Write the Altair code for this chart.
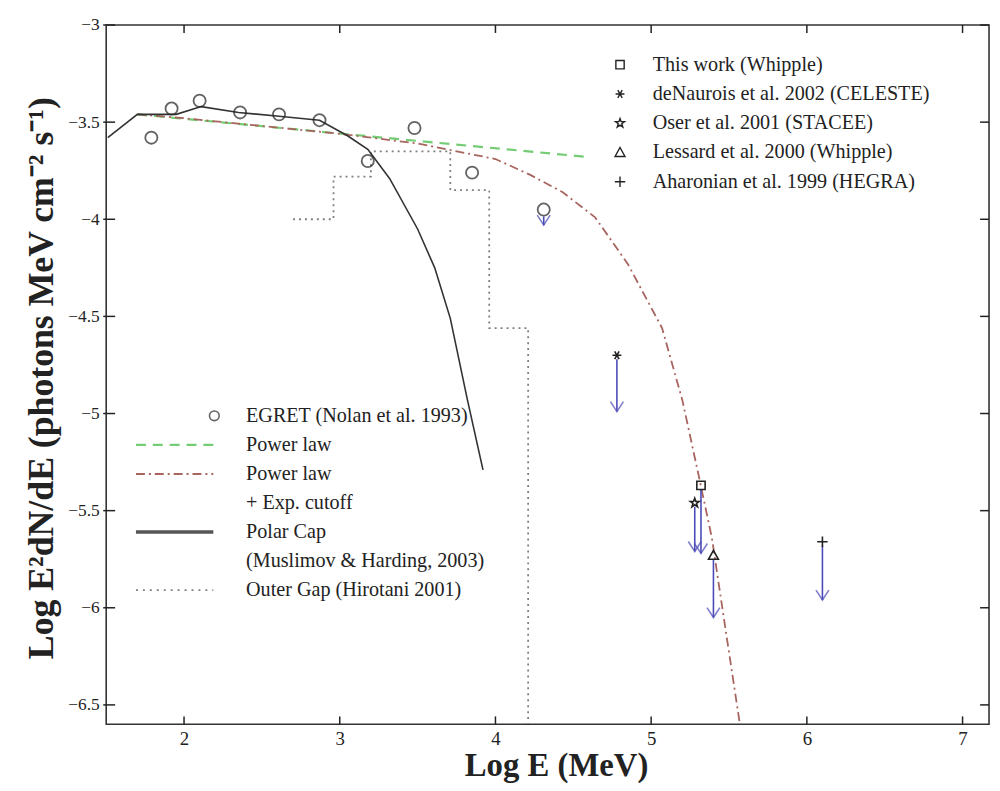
import altair as alt
import pandas as pd

# ---------------- data ----------------
x_ticks = [2, 3, 4, 5, 6, 7]
y_ticks = [-3, -3.5, -4, -4.5, -5, -5.5, -6, -6.5]
x_domain = [1.5, 7.17]
y_domain = [-6.6, -3.0]

# EGRET (Nolan et al. 1993) open circles
egret_x = [1.79, 1.92, 2.10, 2.36, 2.61, 2.87, 3.18, 3.48, 3.85, 4.31]
egret_y = [-3.58, -3.43, -3.39, -3.45, -3.46, -3.49, -3.70, -3.53, -3.76, -3.95]

# Polar Cap (Muslimov & Harding 2003) solid line
polar_x = [1.51, 1.70, 1.95, 2.11, 2.35, 2.61, 2.87, 3.05, 3.18, 3.32, 3.50, 3.61, 3.71, 3.82, 3.92]
polar_y = [-3.58, -3.46, -3.46, -3.42, -3.45, -3.47, -3.49, -3.57, -3.64, -3.79, -4.05, -4.25, -4.51, -4.93, -5.29]

# Power law (green dashed)
pl_x = [1.70, 4.60]
pl_y = [-3.46, -3.68]

# Power law + exp. cutoff (red dash-dot)
plc_x = [1.70, 2.00, 2.50, 3.00, 3.50, 4.00, 4.22, 4.43, 4.64, 4.85, 5.07, 5.20, 5.30, 5.39, 5.47, 5.57]
plc_y = [-3.46, -3.48, -3.52, -3.56, -3.61, -3.69, -3.77, -3.86, -3.99, -4.23, -4.56, -4.93, -5.30, -5.64, -6.07, -6.60]

# Outer Gap (Hirotani 2001) dotted step line
og_x = [2.70, 2.96, 3.20, 3.71, 3.96, 4.21]
og_y = [-4.00, -3.78, -3.65, -3.85, -4.56, -6.60]

# Upper limits of the TeV experiments
src_names = ["This work (Whipple)", "deNaurois et al. 2002 (CELESTE)",
             "Oser et al. 2001 (STACEE)", "Lessard et al. 2000 (Whipple)",
             "Aharonian et al. 1999 (HEGRA)"]
src_x = [5.32, 4.78, 5.28, 5.40, 6.10]
src_y = [-5.37, -4.70, -5.46, -5.73, -5.66]
src_lim = [-5.72, -4.99, -5.71, -6.05, -5.96]

# EGRET highest bin upper-limit arrow
egret_ul_x = [4.31]
egret_ul_top = [-3.985]
egret_ul_bot = [-4.03]

leg1_labels = ["EGRET (Nolan et al. 1993)", "Power law", "Power law", "+ Exp. cutoff",
               "Polar Cap", "(Muslimov & Harding, 2003)", "Outer Gap (Hirotani 2001)"]

x_title = "Log E (MeV)"
y_title = "Log E\u00b2dN/dE (photons MeV cm\u207b\u00b2 s\u207b\u00b9)"

# ---------------- styles ----------------
W, H = 890, 705
FONT = "Liberation Serif"
INK = "#222222"
BLUE = "#4a4ab8"
GREEN = "#74cc74"
RED = "#a8645e"
GRAY = "#808080"
LEG_FS = 20.3

SQUARE = "M-1,-1L1,-1L1,1L-1,1Z"
ASTER = "M-1,0L1,0M-0.5,-0.87L0.5,0.87M-0.5,0.87L0.5,-0.87"
STAR = ("M0,-1L0.235,-0.324L0.951,-0.309L0.380,0.124L0.588,0.809L0,0.4"
        "L-0.588,0.809L-0.380,0.124L-0.951,-0.309L-0.235,-0.324Z")
TRI = "M0,-1L1,0.8L-1,0.8Z"
PLUS = "M-1,0L1,0M0,-1L0,1"
ARROW = "M-0.65,-1L0,0L0.65,-1"
shape_range = [SQUARE, ASTER, STAR, TRI, PLUS]
size_range = [70, 110, 130, 150, 170]

xs = alt.Scale(domain=x_domain, nice=False, zero=False)
ys = alt.Scale(domain=y_domain, nice=False, zero=False)
xax = alt.Axis(values=x_ticks, title=None, grid=False, domain=False, ticks=False,
               labelFont=FONT, labelFontSize=19, labelColor=INK, labelPadding=5,
               format="~g", labelFlush=False)
yax = alt.Axis(values=y_ticks, title=None, grid=False, domain=False, ticks=False,
               labelFont=FONT, labelFontSize=17.5, labelColor=INK, labelPadding=7,
               format="~g", labelFlush=False)


def X(f):
    return alt.X(f, type="quantitative", scale=xs, axis=xax)


def Y(f):
    return alt.Y(f, type="quantitative", scale=ys, axis=yax)


egret = pd.DataFrame({"x": egret_x, "y": egret_y})
polar = pd.DataFrame({"x": polar_x, "y": polar_y})
pl = pd.DataFrame({"x": pl_x, "y": pl_y})
plc = pd.DataFrame({"x": plc_x, "y": plc_y})
og = pd.DataFrame({"x": og_x, "y": og_y})
src = pd.DataFrame({"name": src_names, "x": src_x, "y": src_y, "lim": src_lim})
arrows = pd.DataFrame({"x": src_x + egret_ul_x,
                       "top": [v - 0.02 for v in src_y] + egret_ul_top,
                       "bot": src_lim + egret_ul_bot})

layers = []

# outer gap dotted steps
layers.append(alt.Chart(og).mark_line(interpolate="step-after", color=GRAY,
                                      strokeDash=[2, 4], strokeWidth=1.8, clip=True)
              .encode(x=X("x"), y=Y("y")))
# power law green dashed
layers.append(alt.Chart(pl).mark_line(color=GREEN, strokeDash=[10, 7], strokeWidth=2.2)
              .encode(x=X("x"), y=Y("y")))
# power law + cutoff dash-dot
layers.append(alt.Chart(plc).mark_line(color=RED, strokeDash=[9, 4, 2, 4], strokeWidth=1.8,
                                       clip=True)
              .encode(x=X("x"), y=Y("y")))
# polar cap solid
layers.append(alt.Chart(polar).mark_line(color="#333333", strokeWidth=1.6)
              .encode(x=X("x"), y=Y("y")))
# EGRET circles
layers.append(alt.Chart(egret).mark_point(shape="circle", filled=False, color=INK,
                                          size=150, strokeWidth=1.8)
              .encode(x=X("x"), y=Y("y")))
# upper limit arrows
layers.append(alt.Chart(arrows).mark_rule(color=BLUE, strokeWidth=1.6)
              .encode(x=X("x"), y=Y("top"), y2="bot"))
layers.append(alt.Chart(arrows).mark_point(shape=ARROW, filled=False, color=BLUE,
                                           size=400, strokeWidth=1.6)
              .encode(x=X("x"), y=Y("bot")))
# TeV source markers
shape_enc = alt.Shape("name:N", scale=alt.Scale(domain=src_names, range=shape_range),
                      legend=None)
size_enc = alt.Size("name:N", scale=alt.Scale(domain=src_names, range=size_range),
                    legend=None)
layers.append(alt.Chart(src).mark_point(filled=False, color=INK, strokeWidth=1.6, opacity=1)
              .encode(x=X("x"), y=Y("y"), shape=shape_enc, size=size_enc))

# inward ticks on all four sides
xt = pd.DataFrame({"v": x_ticks})
yt = pd.DataFrame({"v": y_ticks})
tick_style = dict(color=INK, strokeWidth=1.5)
layers.append(alt.Chart(xt).mark_rule(**tick_style)
              .encode(x=X("v"), y=alt.value(H), y2=alt.value(H - 8)))
layers.append(alt.Chart(xt).mark_rule(**tick_style)
              .encode(x=X("v"), y=alt.value(0), y2=alt.value(8)))
layers.append(alt.Chart(yt).mark_rule(**tick_style)
              .encode(y=Y("v"), x=alt.value(-3), x2=alt.value(9)))
layers.append(alt.Chart(yt).mark_rule(**tick_style)
              .encode(y=Y("v"), x=alt.value(W), x2=alt.value(W - 9)))

# ---------------- top-right legend ----------------
L2_SYM_X, L2_TXT_X, L2_Y0, L2_DY = 518, 551, 40, 29.5
leg2 = pd.DataFrame({"name": src_names})
leg2_base = alt.Chart(leg2).transform_window(i="row_number()").transform_calculate(
    ypix=f"{L2_Y0} + (datum.i - 1) * {L2_DY}")
layers.append(leg2_base.mark_point(filled=False, color=INK, strokeWidth=1.4, opacity=1)
              .encode(x=alt.value(L2_SYM_X), y=alt.Y("ypix:Q", scale=None),
                      shape=shape_enc,
                      size=alt.Size("name:N", scale=alt.Scale(domain=src_names,
                                                              range=[55, 90, 110, 120, 150]),
                                    legend=None)))
layers.append(leg2_base.mark_text(align="left", baseline="middle", font=FONT, fontSize=LEG_FS,
                                  color=INK)
              .encode(x=alt.value(L2_TXT_X), y=alt.Y("ypix:Q", scale=None), text="name:N"))

# ---------------- bottom-left legend ----------------
L1_TXT_X, L1_Y0, L1_DY = 141, 394, 29.3
L1_LX0, L1_LX1 = 30, 108
leg1 = pd.DataFrame({"label": leg1_labels})
layers.append(alt.Chart(leg1).transform_window(i="row_number()").transform_calculate(
    ypix=f"{L1_Y0} + (datum.i - 1) * {L1_DY}")
    .mark_text(align="left", baseline="middle", font=FONT, fontSize=LEG_FS, color=INK)
    .encode(x=alt.value(L1_TXT_X), y=alt.Y("ypix:Q", scale=None), text="label:N"))


def leg_row(k, label, **mark):
    return (alt.Chart(pd.DataFrame({"label": [label]})).mark_rule(**mark)
            .encode(x=alt.value(L1_LX0), x2=alt.value(L1_LX1),
                    y=alt.value(L1_Y0 + k * L1_DY)))


layers.append(alt.Chart(pd.DataFrame({"label": [leg1_labels[0]]}))
              .mark_point(shape="circle", filled=False, color=INK, size=95, strokeWidth=1.6)
              .encode(x=alt.value(L1_LX1 + 1), y=alt.value(L1_Y0)))
layers.append(leg_row(1, leg1_labels[1], color=GREEN, strokeDash=[10, 7], strokeWidth=2.2))
layers.append(leg_row(2, leg1_labels[2], color=RED, strokeDash=[9, 4, 2, 4], strokeWidth=2))
layers.append(leg_row(4, leg1_labels[4], color="#555555", strokeWidth=3.5))
layers.append(leg_row(6, leg1_labels[6], color=GRAY, strokeDash=[2, 5], strokeWidth=1.8))

# ---------------- axis titles ----------------
layers.append(alt.Chart(pd.DataFrame({"t": [x_title]}))
              .mark_text(font=FONT, fontSize=33, fontWeight="bold", color=INK,
                         align="center", baseline="alphabetic")
              .encode(x=alt.value(454), y=alt.value(757), text="t:N"))
layers.append(alt.Chart(pd.DataFrame({"t": [y_title]}))
              .mark_text(font=FONT, fontSize=36, fontWeight="bold", color=INK,
                         align="center", baseline="alphabetic", angle=270)
              .encode(x=alt.value(-54), y=alt.value(356), text="t:N"))

chart = alt.layer(*layers).properties(
    width=W, height=H,
    autosize=alt.AutoSizeParams(type="none"),
    padding={"left": 99, "top": 14, "right": 3, "bottom": 56},
    background="white",
).configure_view(stroke="#333333", strokeWidth=1.6).configure_axis(
    labelFont=FONT, labelColor=INK
).configure_text(font=FONT)

chart.save("out.html", embed_options={"renderer": "svg", "actions": False})
